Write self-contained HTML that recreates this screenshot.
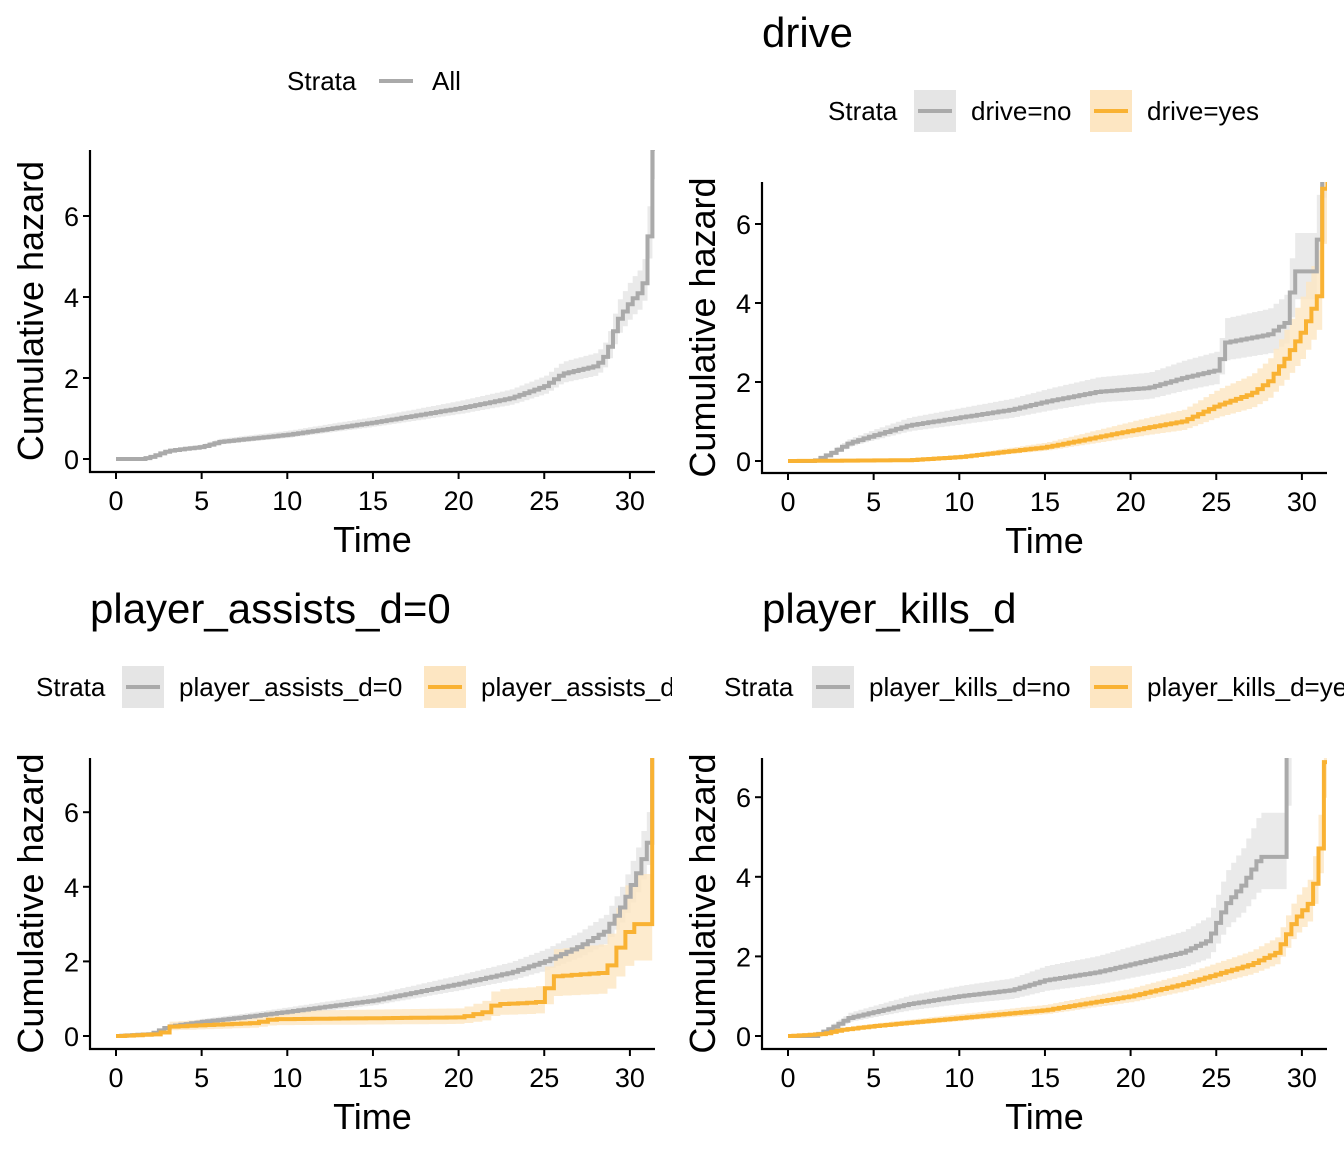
<!DOCTYPE html><html><head><style>body{margin:0;background:#fff}svg{display:block}text{font-family:"Liberation Sans",Arial,sans-serif}</style></head><body>
<svg id="s" width="1344" height="1152" xmlns="http://www.w3.org/2000/svg">
<defs>
<clipPath id="cl"><rect x="0" y="0" width="672" height="1152"/></clipPath>
<clipPath id="cr"><rect x="672" y="0" width="672" height="1152"/></clipPath>
</defs>
<g id="g"></g>
</svg>
<script>
var G=document.getElementById('g'),o='';
var GR='#aaaaaa',OR='#f9b233',GF='#e5e5e5',OF='#fde6c2';
function interp(p,t){for(var i=1;i<p.length;i++){if(t<=p[i][0]){var a=p[i-1],b=p[i];return a[1]+(b[1]-a[1])*(t-a[0])/(b[0]-a[0]);}}return p[p.length-1][1];}
function steps(p,n){var tmax=p[p.length-1][0],r=[];for(var i=0;i<=n;i++){var t=tmax*i/n;r.push([t,interp(p,t)]);}return r;}
function panel(P){
 var X=function(t){return P.x0+t*P.sx},Y=function(h){return P.y0-h*P.sy};
 var clip=P.x0<600?'cl':'cr';
 o+='<g clip-path="url(#'+clip+')">';
 o+='<svg x="'+P.ax+'" y="'+P.top+'" width="'+(P.right-P.ax)+'" height="'+(P.axy-P.top)+'" overflow="hidden"><g transform="translate('+(-P.ax)+','+(-P.top)+')">';
 P.series.forEach(function(s){
  var st=steps(s.p,s.n||90);
  var up='',dn='';
  for(var i=0;i<st.length;i++){var t=st[i][0],h=st[i][1],w=s.b*h+0.02;var tn=i+1<st.length?st[i+1][0]:t;
   up+=' L'+X(t).toFixed(1)+','+Y(h+w*1.1).toFixed(1)+' L'+X(tn).toFixed(1)+','+Y(h+w*1.1).toFixed(1);}
  for(var i=st.length-1;i>=0;i--){var t=st[i][0],h=st[i][1],w=s.b*h+0.02;var tn=i+1<st.length?st[i+1][0]:t;
   dn+=' L'+X(tn).toFixed(1)+','+Y(Math.max(0,h-w*0.8)).toFixed(1)+' L'+X(t).toFixed(1)+','+Y(Math.max(0,h-w*0.8)).toFixed(1);}
  o+='<path d="M'+up.slice(2)+dn+'Z" fill="'+(s.c==GR?GF:OF)+'" opacity="0.8"/>';
 });
 P.series.forEach(function(s){
  var st=steps(s.p,s.n||90),d='M'+X(0)+','+Y(0);
  for(var i=0;i<st.length;i++){d+=' H'+X(st[i][0]).toFixed(1)+' V'+Y(st[i][1]).toFixed(1);}
  d+=' V'+(P.top-10);
  o+='<path d="'+d+'" fill="none" stroke="'+s.c+'" stroke-width="4"/>';
 });
 o+='</g></svg>';
 o+='<line x1="'+P.ax+'" y1="'+P.top+'" x2="'+P.ax+'" y2="'+(P.axy+1)+'" stroke="#000" stroke-width="2.2"/>';
 o+='<line x1="'+(P.ax-1)+'" y1="'+P.axy+'" x2="'+P.right+'" y2="'+P.axy+'" stroke="#000" stroke-width="2.2"/>';
 [0,2,4,6].forEach(function(v){var y=Y(v);o+='<line x1="'+(P.ax-7)+'" y1="'+y+'" x2="'+P.ax+'" y2="'+y+'" stroke="#000" stroke-width="2"/><text x="'+(P.ax-11)+'" y="'+(y+10)+'" font-size="27" text-anchor="end">'+v+'</text>';});
 [0,5,10,15,20,25,30].forEach(function(v){var x=X(v);o+='<line x1="'+x+'" y1="'+P.axy+'" x2="'+x+'" y2="'+(P.axy+7)+'" stroke="#000" stroke-width="2"/><text x="'+x+'" y="'+(P.axy+38)+'" font-size="27" text-anchor="middle">'+v+'</text>';});
 o+='<text x="'+((P.ax+P.right)/2)+'" y="'+(P.axy+80)+'" font-size="36" text-anchor="middle">Time</text>';
 var cy=(P.top+P.axy)/2;
 o+='<text transform="translate('+(P.ax-47)+','+cy+') rotate(-90)" font-size="36" text-anchor="middle">Cumulative hazard</text>';
 if(P.title)o+='<text x="'+P.ax+'" y="'+P.ty+'" font-size="42">'+P.title+'</text>';
 var lx=P.lx,ly=P.ly;
 o+='<text x="'+lx+'" y="'+(ly+9)+'" font-size="26">Strata</text>';
 P.leg.forEach(function(l){
  if(l.box)o+='<rect x="'+l.x+'" y="'+(ly-21)+'" width="42" height="42" fill="'+(l.c==GR?GF:OF)+'"/>';
  o+='<line x1="'+(l.x+4)+'" y1="'+ly+'" x2="'+(l.x+38)+'" y2="'+ly+'" stroke="'+l.c+'" stroke-width="4"/>';
  o+='<text x="'+(l.x+57)+'" y="'+(ly+9)+'" font-size="26">'+l.t+'</text>';
 });
 o+='</g>';
}
var all=[[0,0],[1.5,0],[2,0.05],[3,0.2],[5,0.3],[6,0.42],[10,0.6],[15,0.9],[20,1.25],[23,1.5],[25,1.8],[26,2.1],[27,2.2],[28,2.3],[28.6,2.6],[29.2,3.4],[30,3.9],[30.7,4.2],[31,5.3],[31.3,7.6],[31.6,9]];
panel({x0:116,sx:17.13,y0:459,sy:40.5,ax:90,axy:472,top:150,right:655,ty:0,lx:287,ly:81,
 series:[{p:all,c:GR,b:0.12,n:110}],leg:[{x:375,c:GR,t:'All',box:false}]});
panel({x0:788,sx:17.13,y0:461,sy:39.5,ax:762,axy:473,top:182,right:1327,ty:47,title:'drive',lx:828,ly:111,
 series:[{p:[[0,0],[1.5,0],[2.5,0.2],[3.5,0.45],[5,0.65],[7,0.9],[10,1.1],[13,1.3],[15,1.5],[18,1.75],[21,1.85],[23,2.1],[25,2.3],[25.5,3],[28,3.2],[29,3.5],[29.5,4.8],[30.8,4.8],[31,7.1],[31.5,9]],c:GR,b:0.18,n:100},
  {p:[[0,0],[7,0.02],[10,0.1],[12,0.2],[15,0.35],[18,0.6],[21,0.85],[23,1.0],[25,1.4],[27,1.7],[28,2.0],[29,2.6],[30,3.3],[31,4.3],[31.2,7.1],[31.5,9]],c:OR,b:0.25,n:100}],
 leg:[{x:914,c:GR,t:'drive=no',box:true},{x:1090,c:OR,t:'drive=yes',box:true}]});
panel({x0:116,sx:17.13,y0:1036,sy:37.3,ax:90,axy:1049,top:758,right:655,ty:623,title:'player_assists_d=0',lx:36,ly:687,
 series:[{p:[[0,0],[2,0.05],[3,0.25],[5,0.38],[7,0.48],[10,0.65],[15,0.95],[20,1.4],[23,1.7],[25,2],[27,2.4],[28.5,2.8],[29.5,3.5],[30.5,4.5],[31,5.2],[31.3,7.5]],c:GR,b:0.14,n:100},
  {p:[[0,0],[2.5,0.05],[3,0.25],[8,0.35],[9,0.45],[20,0.5],[21.5,0.65],[22,0.85],[24.5,0.9],[25.5,1.6],[28.5,1.7],[29,2.2],[30,3.0],[30.8,3.0],[30.9,7.5],[31.3,9]],c:OR,b:0.4,n:60}],
 leg:[{x:122,c:GR,t:'player_assists_d=0',box:true},{x:424,c:OR,t:'player_assists_d=1',box:true}]});
panel({x0:788,sx:17.13,y0:1036,sy:39.8,ax:762,axy:1049,top:758,right:1327,ty:623,title:'player_kills_d',lx:724,ly:687,
 series:[{p:[[0,0],[1.5,0],[2.5,0.2],[3.5,0.45],[5,0.6],[7,0.8],[10,1.0],[13,1.15],[15,1.4],[18,1.6],[20,1.8],[23,2.1],[24.5,2.4],[25.5,3.3],[26.5,3.8],[27.5,4.5],[29,4.5],[29.1,7],[29.4,9]],c:GR,b:0.22,n:100},
  {p:[[0,0],[2,0.05],[3,0.15],[5,0.25],[10,0.45],[15,0.65],[20,1.0],[23,1.3],[25,1.55],[27,1.8],[28.5,2.1],[29.5,2.9],[30.5,3.4],[31,4.8],[31.3,7],[31.6,9]],c:OR,b:0.16,n:100}],
 leg:[{x:812,c:GR,t:'player_kills_d=no',box:true},{x:1090,c:OR,t:'player_kills_d=yes',box:true}]});
G.innerHTML=o;
</script>
</body></html>
